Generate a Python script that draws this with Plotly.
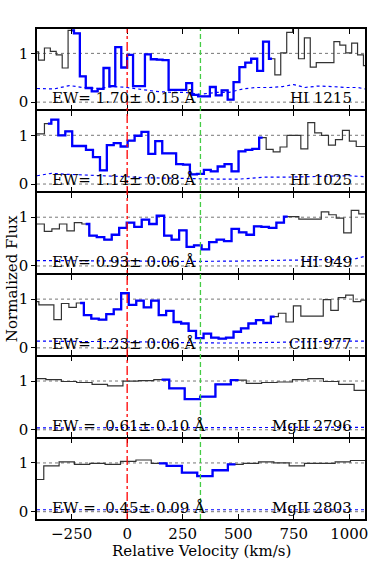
import numpy as np
import plotly.graph_objects as go
from plotly.subplots import make_subplots

# ---- HI 1215 ----
v_hi1215 = [-412, -386, -359, -333, -306, -279, -253, -226, -200, -173, -146, -120, -93, -67, -40, -13,
            13, 40, 67, 93, 120, 146, 173, 200, 226, 253, 279, 306, 333, 359, 386, 412, 439, 466, 492,
            519, 545, 572, 599, 625, 652, 678, 705, 732, 758, 785, 811, 838, 865, 891, 918, 944, 971,
            998, 1024, 1051, 1077]
f_hi1215 = [1.03, 0.86, 1.11, 1.04, 0.97, 0.70, 1.47, 1.41, 0.53, 0.29, 0.22, 0.27, 0.70, 0.33, 1.13, 0.71,
            0.97, 0.33, 0.33, 0.98, 0.88, 0.87, 0.86, 0.25, 0.25, 0.25, 0.39, 0.15, 0.12, 0.12, 0.31, 0.14,
            0.24, 0.05, 0.41, 0.72, 0.81, 0.89, 0.64, 1.24, 0.89, 0.56, 1.01, 1.43, 1.55, 0.89, 1.32, 0.72,
            0.81, 0.81, 0.81, 1.24, 1.17, 1.01, 1.21, 0.97, 0.75]
ev_hi1215 = [-406, -330, -260, -200, -130, -60, 0, 60, 130, 200, 260, 330, 400, 460, 520, 580, 640, 700,
             750, 800, 860, 920, 980, 1040, 1071]
e_hi1215 = [0.28, 0.27, 0.34, 0.30, 0.28, 0.32, 0.30, 0.26, 0.22, 0.20, 0.20, 0.16, 0.20, 0.20, 0.27, 0.30,
            0.30, 0.32, 0.36, 0.30, 0.33, 0.32, 0.30, 0.30, 0.27]
blue_hi1215 = [-253, 652]

# ---- HI 1025 ----
v_hi1025 = [-419, -388, -357, -326, -294, -263, -232, -201, -170, -138, -107, -76, -45, -14, 18, 49, 80,
            111, 142, 174, 205, 236, 267, 298, 330, 361, 392, 423, 454, 486, 517, 548, 579, 610, 642, 673,
            704, 735, 766, 798, 829, 860, 891, 922, 954, 985, 1016, 1047, 1078]
f_hi1025 = [1.03, 1.03, 1.24, 1.32, 1.00, 1.08, 0.78, 0.78, 0.70, 0.55, 0.28, 0.80, 0.84, 0.77, 0.89, 0.99,
            1.07, 0.62, 0.88, 0.63, 0.63, 0.41, 0.40, 0.20, 0.21, 0.29, 0.26, 0.36, 0.41, 0.26, 0.67, 0.70,
            0.72, 0.95, 0.71, 0.66, 0.76, 1.00, 1.00, 0.72, 1.26, 1.05, 1.00, 0.80, 0.91, 1.10, 0.88, 0.77,
            0.77]
ev_hi1025 = [-406, -340, -270, -200, -130, -60, 0, 80, 160, 240, 330, 420, 500, 560, 620, 700, 800, 900,
             1000, 1071]
e_hi1025 = [0.17, 0.22, 0.20, 0.19, 0.18, 0.16, 0.15, 0.13, 0.12, 0.11, 0.10, 0.10, 0.10, 0.12, 0.14, 0.14,
            0.15, 0.16, 0.17, 0.15]
blue_hi1025 = [-357, 610]

# ---- HI 949 ----
v_hi949 = [-423, -390, -356, -322, -288, -255, -221, -187, -154, -120, -86, -53, -19, 15, 49, 82, 116, 150,
           183, 217, 251, 284, 318, 352, 386, 419, 453, 487, 520, 554, 588, 621, 655, 689, 723, 756, 790,
           824, 857, 891, 925, 958, 992, 1026, 1060, 1093]
f_hi949 = [0.86, 0.86, 0.71, 0.76, 0.86, 0.72, 0.89, 0.86, 0.62, 0.59, 0.54, 0.64, 0.78, 0.89, 0.80, 0.95,
           0.86, 1.03, 0.62, 0.54, 0.73, 0.39, 0.42, 0.34, 0.49, 0.54, 0.51, 0.76, 0.69, 0.64, 0.81, 0.80,
           0.78, 0.89, 1.01, 1.01, 0.96, 0.96, 0.96, 1.11, 1.05, 0.98, 0.68, 1.14, 1.07, 1.07]
ev_hi949 = [-406, -300, -200, -100, 0, 100, 200, 300, 400, 500, 600, 700, 800, 900, 980, 1030, 1071]
e_hi949 = [0.11, 0.11, 0.11, 0.10, 0.10, 0.10, 0.09, 0.09, 0.10, 0.10, 0.11, 0.12, 0.12, 0.13, 0.13, 0.15,
           0.20]
blue_hi949 = [-187, 723]

# ---- CIII 977 ----
v_ciii977 = [-414, -381, -347, -313, -279, -246, -212, -178, -145, -111, -77, -44, -10, 24, 58, 91, 125,
             159, 192, 226, 260, 293, 327, 361, 395, 428, 462, 496, 529, 563, 597, 630, 664, 698, 732, 765,
             799, 833, 866, 900, 934, 967, 1001, 1035, 1069, 1102]
f_ciii977 = [0.95, 0.88, 0.88, 0.58, 0.91, 0.83, 0.92, 0.67, 0.60, 0.58, 0.69, 0.79, 1.12, 0.88, 0.97, 0.83,
             0.97, 0.67, 0.76, 0.53, 0.50, 0.35, 0.20, 0.29, 0.21, 0.19, 0.21, 0.33, 0.40, 0.50, 0.57, 0.51,
             0.64, 0.71, 0.53, 0.86, 0.65, 0.65, 0.65, 0.99, 0.77, 1.03, 1.08, 0.95, 0.98, 0.98]
ev_ciii977 = [-406, -300, -200, -100, 0, 100, 200, 300, 400, 500, 600, 700, 800, 900, 1000, 1071]
e_ciii977 = [0.14, 0.13, 0.13, 0.13, 0.13, 0.12, 0.11, 0.10, 0.10, 0.10, 0.11, 0.11, 0.12, 0.13, 0.14, 0.14]
blue_ciii977 = [-212, 664]

# ---- MgII 2796 ----
v_mgii2796 = [-470, -401, -331, -262, -193, -123, -54, 16, 85, 155, 224, 294, 363, 432, 502, 571, 640, 710,
              779, 849, 918, 987, 1057, 1126]
f_mgii2796 = [1.05, 1.05, 1.03, 0.99, 0.97, 0.93, 0.90, 1.00, 1.01, 1.03, 0.85, 0.63, 0.68, 0.93, 1.02, 0.95,
              0.97, 0.98, 1.03, 1.05, 0.99, 0.93, 0.81, 0.81]
ev_mgii2796 = [-406, -250, -100, 50, 200, 350, 500, 650, 800, 950, 1071]
e_mgii2796 = [0.04, 0.04, 0.04, 0.04, 0.04, 0.04, 0.04, 0.04, 0.04, 0.05, 0.05]
blue_mgii2796 = [155, 502]

# ---- MgII 2803 ----
v_mgii2803 = [-479, -410, -341, -272, -203, -134, -65, 5, 74, 143, 212, 281, 350, 419, 488, 557, 626, 695,
              764, 833, 902, 971, 1040, 1109]
f_mgii2803 = [0.66, 0.66, 0.94, 1.02, 0.97, 0.99, 0.97, 1.03, 1.06, 0.99, 0.94, 0.80, 0.73, 0.85, 0.97, 0.99,
              1.02, 1.00, 0.94, 0.99, 0.99, 1.02, 1.05, 1.05]
ev_mgii2803 = [-406, -250, -100, 50, 200, 350, 500, 650, 800, 950, 1071]
e_mgii2803 = [0.04, 0.04, 0.04, 0.04, 0.04, 0.04, 0.04, 0.04, 0.04, 0.04, 0.04]
blue_mgii2803 = [143, 488]

ew_texts = ["EW= 1.70\u00b1 0.15 \u00c5", "EW= 1.14\u00b1 0.08 \u00c5", "EW= 0.93\u00b1 0.06 \u00c5",
            "EW= 1.23\u00b1 0.06 \u00c5", "EW =\u00a0 0.61\u00b1 0.10 \u00c5", "EW =\u00a0 0.45\u00b1 0.09 \u00c5"]
ions = ["HI 1215", "HI 1025", "HI 949", "CIII 977", "MgII 2796", "MgII 2803"]

panels = [
    (v_hi1215, f_hi1215, ev_hi1215, e_hi1215, blue_hi1215),
    (v_hi1025, f_hi1025, ev_hi1025, e_hi1025, blue_hi1025),
    (v_hi949, f_hi949, ev_hi949, e_hi949, blue_hi949),
    (v_ciii977, f_ciii977, ev_ciii977, e_ciii977, blue_ciii977),
    (v_mgii2796, f_mgii2796, ev_mgii2796, e_mgii2796, blue_mgii2796),
    (v_mgii2803, f_mgii2803, ev_mgii2803, e_mgii2803, blue_mgii2803),
]

FONT = "DejaVu Serif"
fig = make_subplots(rows=6, cols=1, shared_xaxes=True, vertical_spacing=0.003)

for i, (v, f, ev, e, win) in enumerate(panels, start=1):
    v = np.array(v)
    f = np.array(f)
    fig.add_trace(go.Scatter(x=v, y=f, mode="lines", line=dict(color="#333333", width=1.2, shape="hvh")),
                  row=i, col=1)
    m = (v >= win[0]) & (v <= win[1])
    fig.add_trace(go.Scatter(x=v[m], y=f[m], mode="lines", line=dict(color="#0000ff", width=2.3, shape="hvh")),
                  row=i, col=1)
    fig.add_trace(go.Scatter(x=ev, y=e, mode="lines", line=dict(color="#0000ff", width=1.2, dash="dot")),
                  row=i, col=1)
    for yy in (0, 1):
        fig.add_hline(y=yy, row=i, col=1, layer="below", line=dict(color="#777777", width=1, dash="dot"))
    xr = "x" if i == 1 else "x%d" % i
    yr = "y" if i == 1 else "y%d" % i
    fig.add_annotation(x=-348, y=0.08, xref=xr, yref=yr, text=ew_texts[i - 1], showarrow=False,
                       xanchor="left", yanchor="middle", font=dict(family=FONT, size=15, color="black"))
    fig.add_annotation(x=1020, y=0.08, xref=xr, yref=yr, text=ions[i - 1], showarrow=False,
                       xanchor="right", yanchor="middle", font=dict(family=FONT, size=15, color="black"))

# velocity markers across all panels
fig.add_shape(type="line", xref="x", yref="paper", x0=0, x1=0, y0=0, y1=1,
              line=dict(color="#ff0000", width=1.3, dash="dashdot"))
fig.add_shape(type="line", xref="x", yref="paper", x0=330, x1=330, y0=0, y1=1,
              line=dict(color="#44cc44", width=1.3, dash="5px,3px"))

fig.update_xaxes(range=[-406, 1071], tickvals=[-250, 0, 250, 500, 750, 1000], ticks="inside", ticklen=5,
                 tickcolor="black", showline=True, linecolor="black", linewidth=1.6, mirror="ticks",
                 showgrid=False, zeroline=False, tickfont=dict(family=FONT, size=15, color="black"))
fig.update_yaxes(range=[-0.15, 1.5], tickvals=[0, 1], ticks="outside", ticklen=4, tickcolor="black",
                 showline=True, linecolor="black", linewidth=1.6, mirror=True, showgrid=False,
                 zeroline=False, tickfont=dict(family=FONT, size=15, color="black"))

fig.add_annotation(x=-0.0755, y=0.49, xref="paper", yref="paper", text="Normalized Flux", textangle=-90,
                   xanchor="center", yanchor="middle", showarrow=False,
                   font=dict(family=FONT, size=15, color="black"))
fig.add_annotation(x=0.5, y=-0.065, xref="paper", yref="paper", text="Relative Velocity (km/s)",
                   showarrow=False, yanchor="middle", font=dict(family=FONT, size=15, color="black"))

fig.update_layout(width=374, height=561, margin=dict(l=37, r=6, t=29, b=42), showlegend=False,
                  plot_bgcolor="white", paper_bgcolor="white", font=dict(family=FONT, size=15))

# drop the page's default body margin so the figure sits at the window's corner
fig.write_html("out.html", config={"displayModeBar": False},
               post_script="document.body.style.margin='0px';")
